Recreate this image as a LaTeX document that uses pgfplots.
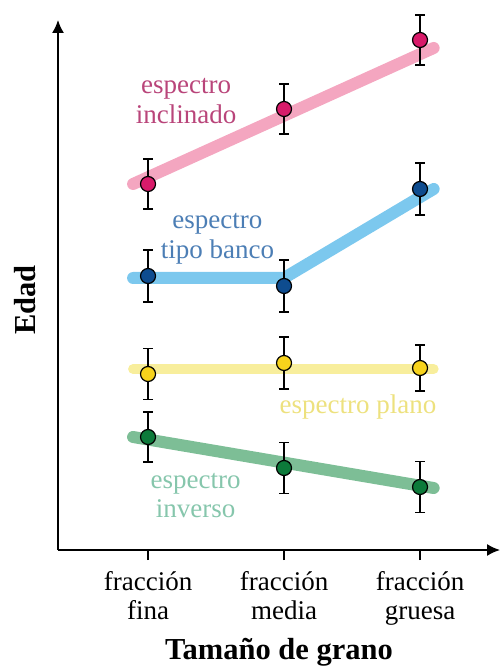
\documentclass[border=0pt]{standalone}
\usepackage{pgfplots}
\pgfplotsset{compat=1.18}
\usepackage{fontspec}
\setmainfont{Liberation Serif}
\usetikzlibrary{arrows.meta}
\definecolor{pinkline}{HTML}{F4A6C0}
\definecolor{pinkmark}{HTML}{D81B6A}
\definecolor{pinktext}{HTML}{B9457A}
\definecolor{blueline}{HTML}{7CC8EE}
\definecolor{bluemark}{HTML}{0E4C8F}
\definecolor{bluetext}{HTML}{4C7EB5}
\definecolor{yellowline}{HTML}{F8EE9C}
\definecolor{yellowmark}{HTML}{F7D31C}
\definecolor{yellowtext}{HTML}{EDE17E}
\definecolor{greenline}{HTML}{7DBE96}
\definecolor{greenmark}{HTML}{0C7A3A}
\definecolor{greentext}{HTML}{86C6AC}
\pgfplotsset{
  pts/.style={only marks, mark=*, mark size=7.5pt,
    mark options={fill=#1, draw=black, line width=1.2pt},
    error bars/.cd, y dir=both, y explicit,
    error bar style={line width=1.5pt, black},
    error mark options={rotate=90, mark size=5pt, line width=1.5pt, black}},
}
\newcommand{\lf}{\fontsize{27}{29}\selectfont}
\begin{document}
\begin{tikzpicture}[x=1pt,y=1pt]
\useasboundingbox (-58,-118) rectangle (442,550);
\begin{axis}[
  at={(0,0)}, anchor=south west,
  scale only axis, width=442pt, height=530pt,
  xmin=-0.662, xmax=2.588, ymin=0, ymax=5.30,
  axis lines=left,
  axis line style={line width=1.5pt, -{Latex[length=13pt,width=12pt]}},
  xtick={0,1,2}, ytick=\empty,
  xticklabels={{fracción\\fina},{fracción\\media},{fracción\\gruesa}},
  xticklabel style={align=center, font=\lf, yshift=-8pt},
  tick align=outside, major tick length=10pt,
  tick style={line width=1.5pt, black},
  xlabel={Tamaño de grano}, ylabel={Edad},
  xlabel style={font=\fontsize{30.5}{34}\selectfont\bfseries, at={(axis description cs:0.5,-0.2075)}, anchor=base},
  ylabel style={font=\fontsize{30.5}{34}\selectfont\bfseries, at={(axis description cs:-0.052,0.472)}, anchor=base},
  clip=false,
]
\addplot[pinkline, line width=12pt, line cap=round] coordinates {(-0.11,3.66) (2.10,5.02)};
\addplot[blueline, line width=12pt, line cap=round, line join=round] coordinates {(-0.11,2.72) (1.0,2.72) (2.10,3.61)};
\addplot[yellowline, line width=10pt, line cap=round] coordinates {(-0.11,1.81) (2.10,1.81)};
\addplot[greenline, line width=12pt, line cap=round] coordinates {(-0.11,1.13) (2.10,0.62)};

\addplot[pts=pinkmark] coordinates {(0,3.66) +- (0,0.25) (1,4.41) +- (0,0.25) (2,5.10) +- (0,0.25)};
\addplot[pts=bluemark] coordinates {(0,2.74) +- (0,0.26) (1,2.64) +- (0,0.26) (2,3.61) +- (0,0.26)};
\addplot[pts=yellowmark] coordinates {(0,1.76) +- (0,0.255) (1,1.87) +- (0,0.26) (2,1.82) +- (0,0.23)};
\addplot[pts=greenmark] coordinates {(0,1.13) +- (0,0.25) (1,0.82) +- (0,0.255) (2,0.63) +- (0,0.255)};

\node[anchor=base, text=pinktext, font=\lf] at (axis cs:0.28,4.56) {espectro};
\node[anchor=base, text=pinktext, font=\lf] at (axis cs:0.28,4.26) {inclinado};
\node[anchor=base, text=bluetext, font=\lf] at (axis cs:0.51,3.21) {espectro};
\node[anchor=base, text=bluetext, font=\lf] at (axis cs:0.51,2.91) {tipo banco};
\node[anchor=base, text=yellowtext, font=\lf] at (axis cs:1.544,1.36) {espectro plano};
\node[anchor=base, text=greentext, font=\lf] at (axis cs:0.35,0.62) {espectro};
\node[anchor=base, text=greentext, font=\lf] at (axis cs:0.35,0.33) {inverso};
\end{axis}
\end{tikzpicture}
\end{document}
